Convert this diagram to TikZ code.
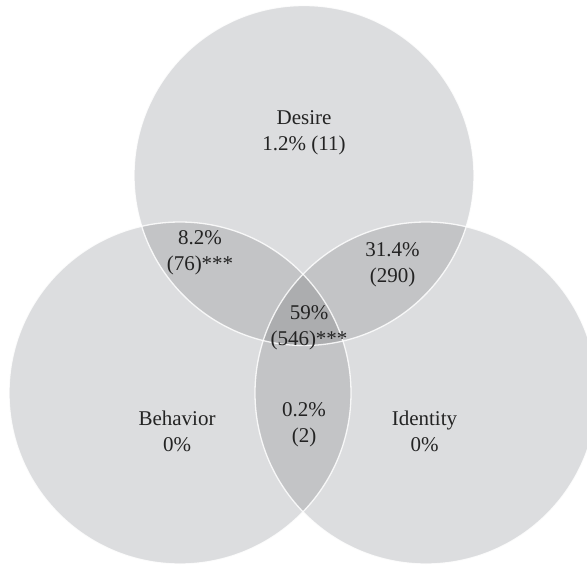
\documentclass[tikz,border=0pt]{standalone}
\usepackage{fontspec}
\setmainfont{Liberation Serif}
\definecolor{one}{RGB}{220,221,223}
\definecolor{two}{RGB}{195,196,198}
\definecolor{three}{RGB}{172,173,175}
\definecolor{ink}{RGB}{35,35,35}
\begin{document}
\begin{tikzpicture}[x=1pt,y=-1pt,
  lbl/.style={align=center,font=\fontsize{21}{26}\selectfont,text=ink,inner sep=0pt},
  rim/.style={draw=white,line width=1.3pt,draw opacity=0.85}]
\useasboundingbox (0,0) rectangle (587,565);
\clip (0,0) rectangle (587,565);
\coordinate (D) at (304,175.5);
\coordinate (B) at (180,393);
\coordinate (I) at (426,393);
\def\rd{170pt}
\def\rb{171pt}
% single regions
\fill[one] (D) circle (\rd);
\fill[one] (B) circle (\rb);
\fill[one] (I) circle (\rb);
% pairwise overlaps
\begin{scope}
  \clip (D) circle (\rd);
  \fill[two] (B) circle (\rb);
  \fill[two] (I) circle (\rb);
\end{scope}
\begin{scope}
  \clip (B) circle (\rb);
  \fill[two] (I) circle (\rb);
\end{scope}
% triple overlap
\begin{scope}
  \clip (D) circle (\rd);
  \clip (B) circle (\rb);
  \fill[three] (I) circle (\rb);
\end{scope}
% outlines
\path[rim] (I) circle (\rb);
\path[rim] (D) circle (\rd);
\path[rim] (B) circle (\rb);
% labels
\node[lbl] (tD) at (304,133) {Desire\\1.2\% (11)};
\node[lbl] (tDB) at (200,253) {8.2\%\\(76)***};
\node[lbl] (tDI) at (392.5,265) {31.4\%\\(290)};
\node[lbl] (tAll) at (309,328) {59\%\\(546)***};
\node[lbl] (tB) at (177,431) {Behavior\\0\%};
\node[lbl] (tBI) at (304,425) {0.2\%\\(2)};
\node[lbl] (tI) at (424.5,431) {Identity\\0\%};
\end{tikzpicture}
\end{document}
